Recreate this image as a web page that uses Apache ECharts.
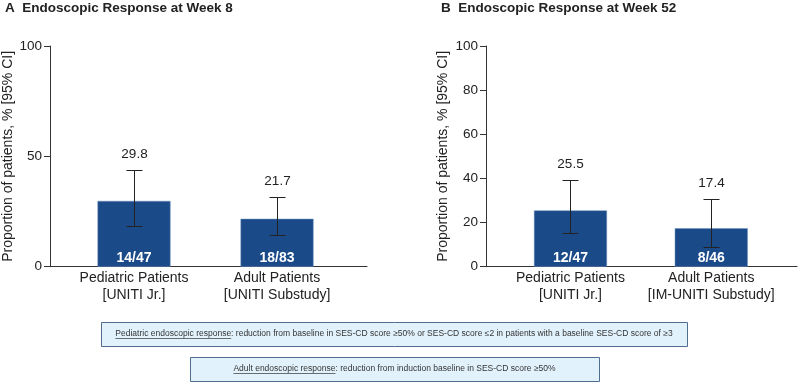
<!DOCTYPE html>
<html>
<head>
<meta charset="utf-8">
<script src="https://cdn.jsdelivr.net/npm/echarts@6/dist/echarts.min.js"></script>
<style>
html, body { margin: 0; padding: 0; background: #fff; }
#main { width: 800px; height: 384px; }
</style>
</head>
<body>
<div id="main"></div>
<script>
var FONT = 'Liberation Sans, Arial, sans-serif';

// panel A - week 8
var catsA = ['Pediatric Patients\n[UNITI Jr.]', 'Adult Patients\n[UNITI Substudy]'];
var valsA = [29.8, 21.7];
var ciLowA = [18.6, 14.3];
var ciHighA = [43.9, 31.5];
var fracA = ['14/47', '18/83'];
var ticksA = [0, 50, 100];

// panel B - week 52
var catsB = ['Pediatric Patients\n[UNITI Jr.]', 'Adult Patients\n[IM-UNITI Substudy]'];
var valsB = [25.5, 17.4];
var ciLowB = [15.4, 8.8];
var ciHighB = [39.3, 30.5];
var fracB = ['12/47', '8/46'];
var ticksB = [0, 20, 40, 60, 80, 100];

var catPos = [1, 2]; // category slots on the x value axis

var myChart = echarts.init(document.getElementById('main'));

function xAxisFor(idx, cats, min, max) {
  return {
    gridIndex: idx, type: 'value', min: min, max: max,
    axisLine: { show: true, lineStyle: { color: '#333', width: 1 } },
    axisTick: { show: false },
    splitLine: { show: false },
    axisLabel: {
      customValues: catPos,
      margin: 3,
      fontFamily: FONT, fontSize: 14, color: '#222', lineHeight: 17,
      formatter: function (v) { return cats[Math.round(v) - 1] || ''; }
    }
  };
}

function yAxisFor(idx, ticks, gap) {
  return {
    gridIndex: idx, type: 'value', min: ticks[0], max: ticks[ticks.length - 1],
    interval: ticks[1] - ticks[0],
    axisLine: { show: true, lineStyle: { color: '#333', width: 1 } },
    axisTick: { show: true, length: 6, lineStyle: { color: '#333' } },
    splitLine: { show: false },
    axisLabel: { margin: 8, fontFamily: FONT, fontSize: 13.5, color: '#222' },
    name: 'Proportion of patients, % [95% CI]',
    nameLocation: 'middle', nameGap: gap,
    nameTextStyle: { fontFamily: FONT, fontSize: 14, color: '#222' }
  };
}

function barSeries(idx, vals, frac) {
  return {
    type: 'bar', xAxisIndex: idx, yAxisIndex: idx,
    barWidth: 73,
    itemStyle: { color: '#1b4a89', borderColor: '#6f93c0', borderWidth: 0.5 },
    data: vals.map(function (v, i) { return [catPos[i], v]; }),
    label: {
      show: true, position: 'insideBottom', distance: 2,
      fontFamily: FONT, fontSize: 14, fontWeight: 'bold', color: '#fff',
      formatter: function (p) { return frac[p.dataIndex]; }
    }
  };
}

function renderErr(params, api) {
  var x = api.value(0);
  var lo = api.coord([x, api.value(1)]);
  var hi = api.coord([x, api.value(2)]);
  var cx = Math.round(lo[0]) + 0.5;
  var ly = Math.round(lo[1]) + 0.5;
  var hy = Math.round(hi[1]) + 0.5;
  var cap = 8;
  var st = { stroke: '#222', lineWidth: 1 };
  return {
    type: 'group',
    children: [
      { type: 'line', shape: { x1: cx, y1: ly, x2: cx, y2: hy }, style: st },
      { type: 'line', shape: { x1: cx - cap, y1: hy, x2: cx + cap, y2: hy }, style: st },
      { type: 'line', shape: { x1: cx - cap, y1: ly, x2: cx + cap, y2: ly }, style: st },
      {
        type: 'text', x: cx, y: hy - 16,
        style: {
          text: api.value(3).toFixed(1), fill: '#222',
          font: '13.5px ' + FONT, align: 'center', verticalAlign: 'middle'
        }
      }
    ]
  };
}

function errSeries(idx, vals, lo, hi) {
  return {
    type: 'custom', xAxisIndex: idx, yAxisIndex: idx, z: 5,
    renderItem: renderErr,
    data: vals.map(function (v, i) { return [catPos[i], lo[i], hi[i], v]; })
  };
}

// footnote boxes
var ctx = document.createElement('canvas').getContext('2d');
function tw(s, size) { ctx.font = size + 'px ' + FONT; return ctx.measureText(s).width; }

function noteBox(x, y, w, h, head, rest) {
  var size = 8.5;
  var w1 = tw(head, size), w2 = tw(rest, size);
  var sx = x + w / 2 - (w1 + w2) / 2;
  var ty = y + h / 2;
  var ts = { font: size + 'px ' + FONT, fill: '#333', verticalAlign: 'middle' };
  return [
    { type: 'rect', shape: { x: x + 0.5, y: y + 0.5, width: w, height: h },
      style: { fill: '#e2f2fc', stroke: '#4f6d8e', lineWidth: 1 } },
    { type: 'text', x: sx, y: ty, style: Object.assign({ text: head }, ts) },
    { type: 'text', x: sx + w1, y: ty, style: Object.assign({ text: rest }, ts) },
    { type: 'line', shape: { x1: sx, y1: ty + 4.5, x2: sx + w1, y2: ty + 4.5 },
      style: { stroke: '#333', lineWidth: 0.7 } }
  ];
}

var notes = [].concat(
  noteBox(101, 322, 586, 24, 'Pediatric endoscopic response',
    ': reduction from baseline in SES-CD score \u226550% or SES-CD score \u22642 in patients with a baseline SES-CD score of \u22653'),
  noteBox(190, 357, 409, 24, 'Adult endoscopic response',
    ': reduction from induction baseline in SES-CD score \u226550%')
);

var titleStyle = { fontFamily: FONT, fontSize: 13.5, fontWeight: 'bold', color: '#222' };

myChart.setOption({
  animation: false,
  title: [
    { text: 'A  Endoscopic Response at Week 8', left: 5, top: 1, padding: 0, textStyle: titleStyle },
    { text: 'B  Endoscopic Response at Week 52', left: 441, top: 1, padding: 0, textStyle: titleStyle }
  ],
  grid: [
    { left: 50, top: 46, width: 317, height: 220.7, outerBoundsMode: 'none', containLabel: false },
    { left: 486, top: 46, width: 311, height: 220.7, outerBoundsMode: 'none', containLabel: false }
  ],
  xAxis: [
    xAxisFor(0, catsA, 0.4126, 2.629),
    xAxisFor(1, catsB, 0.400, 2.609)
  ],
  yAxis: [
    yAxisFor(0, ticksA, 35),
    yAxisFor(1, ticksB, 36)
  ],
  series: [
    barSeries(0, valsA, fracA),
    errSeries(0, valsA, ciLowA, ciHighA),
    barSeries(1, valsB, fracB),
    errSeries(1, valsB, ciLowB, ciHighB)
  ],
  graphic: notes
});
</script>
</body>
</html>
